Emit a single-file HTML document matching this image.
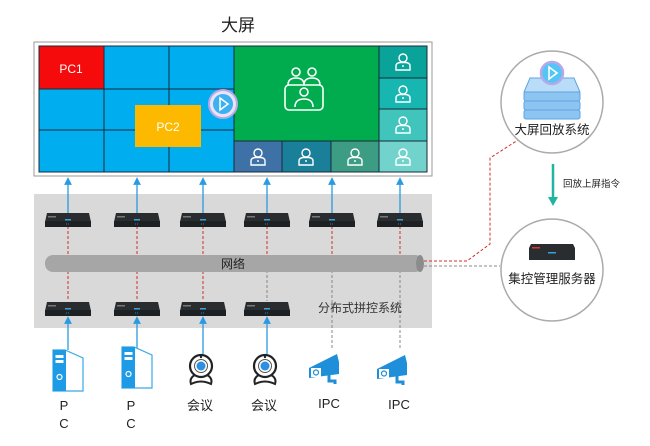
<!DOCTYPE html>
<html><head><meta charset="utf-8"><style>
html,body{margin:0;padding:0;background:#fff;}
svg{display:block;}
text{font-family:"Liberation Sans","Noto Sans CJK SC",sans-serif;}
</style></head><body>
<svg width="650" height="446" viewBox="0 0 650 446" xmlns="http://www.w3.org/2000/svg">
<defs>
<g id="dev">
  <path d="M-23,3 L-21,-6 L21,-6 L23,3 L23,8 L-23,8 Z" fill="#2a2d30"/>
  <rect x="-23" y="2" width="46" height="6" fill="#1e2124"/>
  <rect x="-20" y="-3" width="8" height="1.5" fill="#777"/>
  <rect x="-3" y="0" width="6" height="1.5" fill="#3aa0d8"/>
  <line x1="-2" y1="5" x2="2" y2="5" stroke="#3aa0d8" stroke-width="0.8" stroke-dasharray="1 1"/>
</g>
<g id="person" fill="none" stroke="#fff" stroke-width="1.4">
  <circle cx="0" cy="-4" r="4"/>
  <path d="M-7,8 L-7,4 Q-7,1 -3,0.5 L3,0.5 Q7,1 7,4 L7,8 Z"/>
  <line x1="0" y1="3" x2="0" y2="5"/>
</g>
<g id="webcam">
  <path d="M-10,18 Q-12,12 -6,9 L6,9 Q12,12 10,18 Q0,13 -10,18 Z" fill="#fff" stroke="#222" stroke-width="2"/>
  <circle cx="0" cy="0" r="11" fill="#fff" stroke="#222" stroke-width="2.2"/>
  <circle cx="0" cy="0" r="6.5" fill="#fff" stroke="#555" stroke-width="1"/>
  <circle cx="0" cy="0" r="4.5" fill="#2f8fe0"/>
  <circle cx="0" cy="-9" r="1.2" fill="#222"/>
</g>
<g id="ipc">
  <path d="M-16,2 L12,-12 L14,-4 L14,8 L-16,12 Z" fill="#1e8fd8"/>
  <rect x="-14" y="2" width="10" height="9" fill="#fff"/>
  <circle cx="-9" cy="6.5" r="2.5" fill="none" stroke="#1e8fd8" stroke-width="1.2"/>
  <path d="M4,9 L4,15 L10,15 L10,18" fill="none" stroke="#1e8fd8" stroke-width="3"/>
</g>
<g id="pc">
  <path d="M0,0 L12,0 L30,8 L30,41 L12,41 L0,41 Z" fill="#fff" stroke="#3aa7e8" stroke-width="1.2"/>
  <rect x="0" y="0" width="13" height="41" fill="#1e9be6"/>
  <rect x="2.5" y="5" width="8" height="3" fill="#fff"/>
  <rect x="2.5" y="10" width="8" height="3" fill="#fff"/>
  <circle cx="6.5" cy="27" r="2.5" fill="none" stroke="#fff" stroke-width="1.2"/>
</g>
<marker id="ab" markerWidth="6" markerHeight="6" refX="3" refY="3" orient="auto"><path d="M0,0 L6,3 L0,6 Z" fill="#2a9be0"/></marker>
</defs>

<text x="238" y="31" font-size="17" text-anchor="middle" fill="#222">大屏</text>
<rect x="34" y="42" width="398" height="134" fill="#fff" stroke="#999" stroke-width="1"/>
<!-- blue grid -->
<rect x="39" y="46" width="195" height="126" fill="#00adee"/>
<rect x="39" y="46" width="65" height="43" fill="#f50b0b"/>
<g stroke="#1a2a3a" stroke-width="1">
<line x1="104" y1="46" x2="104" y2="172"/><line x1="169" y1="46" x2="169" y2="172"/>
<line x1="39" y1="89" x2="234" y2="89"/><line x1="39" y1="130" x2="234" y2="130"/>
</g>
<rect x="135" y="105" width="66" height="42" fill="#fcb900"/>
<text x="71" y="73" font-size="12" fill="#fff" text-anchor="middle">PC1</text>
<text x="168" y="131" font-size="12" fill="#fff" text-anchor="middle">PC2</text>
<!-- green -->
<rect x="234" y="46" width="145" height="95" fill="#00ac4e"/>
<rect x="234" y="141" width="48" height="31" fill="#3e72a6"/>
<rect x="282" y="141" width="49" height="31" fill="#1a7f98"/>
<rect x="331" y="141" width="48" height="31" fill="#3d9c84"/>
<rect x="379" y="46" width="48" height="32" fill="#0aa39a"/>
<rect x="379" y="78" width="48" height="31" fill="#17b6b0"/>
<rect x="379" y="109" width="48" height="32" fill="#41c4bb"/>
<rect x="379" y="141" width="48" height="31" fill="#71d3cc"/>
<g stroke="#1a2a3a" stroke-width="1" fill="none">
<rect x="39" y="46" width="388" height="126"/>
<line x1="234" y1="46" x2="234" y2="172"/><line x1="379" y1="46" x2="379" y2="172"/>
<line x1="234" y1="141" x2="427" y2="141"/><line x1="282" y1="141" x2="282" y2="172"/><line x1="331" y1="141" x2="331" y2="172"/>
<line x1="379" y1="78" x2="427" y2="78"/><line x1="379" y1="109" x2="427" y2="109"/>
</g>
<use href="#person" x="258" y="157"/><use href="#person" x="306" y="157"/><use href="#person" x="355" y="157"/>
<use href="#person" x="403" y="62"/><use href="#person" x="403" y="94"/><use href="#person" x="403" y="125"/><use href="#person" x="403" y="157"/>
<!-- meeting icon -->
<g fill="none" stroke="#fff" stroke-width="1.6">
<circle cx="296" cy="72" r="4"/><circle cx="312" cy="72" r="4"/>
<path d="M288,85 Q288,78 296,78 Q304,78 304,85"/><path d="M304,85 Q304,78 312,78 Q320,78 320,85"/>
<rect x="285" y="85" width="38" height="25" rx="4"/>
<circle cx="304" cy="92" r="4"/><path d="M295,107 Q295,99 304,99 Q313,99 313,107"/>
</g>
<!-- play -->
<circle cx="223" cy="104" r="14" fill="#e8e4f6" stroke="#b9a8e8" stroke-width="2"/>
<circle cx="223" cy="104" r="10" fill="#3db1f0"/>
<path d="M220,98 L228,104 L220,110 Z" fill="none" stroke="#fff" stroke-width="1.5"/>

<!-- gray system box -->
<rect x="34" y="194" width="398" height="134" fill="#d9d9d9"/>
<!-- arrows up to screen -->
<g stroke="#2a9be0" stroke-width="1.3">
<line x1="68" y1="213" x2="68" y2="181" marker-end="url(#ab)"/>
<line x1="137" y1="213" x2="137" y2="181" marker-end="url(#ab)"/>
<line x1="203" y1="213" x2="203" y2="181" marker-end="url(#ab)"/>
<line x1="267" y1="213" x2="267" y2="181" marker-end="url(#ab)"/>
<line x1="332" y1="213" x2="332" y2="181" marker-end="url(#ab)"/>
<line x1="400" y1="213" x2="400" y2="181" marker-end="url(#ab)"/>
<line x1="68" y1="350" x2="68" y2="320" marker-end="url(#ab)"/>
<line x1="137" y1="350" x2="137" y2="320" marker-end="url(#ab)"/>
<line x1="203" y1="354" x2="203" y2="320" marker-end="url(#ab)"/>
<line x1="267" y1="354" x2="267" y2="320" marker-end="url(#ab)"/>
</g>
<!-- dashed -->
<g stroke="#d0302a" stroke-width="1" stroke-dasharray="3 2">
<line x1="68" y1="226" x2="68" y2="301"/><line x1="137" y1="226" x2="137" y2="301"/>
<line x1="203" y1="226" x2="203" y2="301"/><line x1="267" y1="226" x2="267" y2="256"/>
<line x1="332" y1="226" x2="332" y2="256"/><line x1="400" y1="226" x2="400" y2="256"/>
<polyline points="424,261 467,261 490,244 490,158 518,140" fill="none"/>
</g>
<g stroke="#888" stroke-width="1" stroke-dasharray="3 2">
<line x1="267" y1="270" x2="267" y2="301"/>
<line x1="332" y1="270" x2="332" y2="350"/><line x1="400" y1="270" x2="400" y2="350"/>
<line x1="424" y1="266" x2="500" y2="266"/>
</g>
<!-- pipe -->
<rect x="45" y="255" width="378" height="17" rx="8" fill="#a6a6a6"/>
<ellipse cx="420" cy="263.5" rx="4" ry="8.5" fill="#8c8c8c"/>
<text x="233" y="268" font-size="12" text-anchor="middle" fill="#222">网络</text>
<text x="318" y="312" font-size="12" fill="#333">分布式拼控系统</text>
<!-- devices -->
<use href="#dev" x="68" y="219"/><use href="#dev" x="137" y="219"/><use href="#dev" x="203" y="219"/>
<use href="#dev" x="267" y="219"/><use href="#dev" x="332" y="219"/><use href="#dev" x="400" y="219"/>
<use href="#dev" x="68" y="308"/><use href="#dev" x="137" y="308"/><use href="#dev" x="203" y="308"/><use href="#dev" x="267" y="308"/>
<!-- bottom sources -->
<use href="#pc" x="53" y="350"/><use href="#pc" x="122" y="347"/>
<use href="#webcam" x="201" y="366"/><use href="#webcam" x="265" y="366"/>
<use href="#ipc" x="325" y="366"/><use href="#ipc" x="393" y="367"/>
<g font-size="13" fill="#222" text-anchor="middle">
<text x="64" y="410">P</text><text x="64" y="428">C</text>
<text x="131" y="410">P</text><text x="131" y="428">C</text>
<text x="200" y="410">会议</text><text x="264" y="410">会议</text>
<text x="329" y="408">IPC</text><text x="399" y="409">IPC</text>
</g>

<!-- right circles -->
<circle cx="552" cy="102" r="51" fill="#fff" stroke="#aaa" stroke-width="1.5"/>
<path d="M530,78 L574,78 L580,92 L524,92 Z" fill="#b9dcf8" stroke="#5fa4e0"/>
<rect x="524" y="92" width="56" height="9" rx="2" fill="#8cc4f2" stroke="#5fa4e0"/>
<rect x="524" y="101" width="56" height="9" rx="2" fill="#8cc4f2" stroke="#5fa4e0"/>
<rect x="524" y="110" width="56" height="9" rx="2" fill="#8cc4f2" stroke="#5fa4e0"/>
<circle cx="552" cy="73" r="11" fill="#54c6f5" stroke="#b9a8e8" stroke-width="2.5"/>
<path d="M549,67 L557,73 L549,79 Z" fill="none" stroke="#fff" stroke-width="1.6"/>
<text x="552" y="134" font-size="12.5" text-anchor="middle" fill="#222">大屏回放系统</text>
<line x1="553" y1="164" x2="553" y2="198" stroke="#1fb5a0" stroke-width="2.5"/>
<path d="M548,197 L553,206 L558,197 Z" fill="#1fb5a0"/>
<text x="563" y="187" font-size="9.5" fill="#222">回放上屏指令</text>
<circle cx="552" cy="270" r="51" fill="#fff" stroke="#aaa" stroke-width="1.5"/>
<path d="M529,248 L531,244 L573,244 L575,248 L575,260 L529,260 Z" fill="#2a2d30"/>
<rect x="532" y="247" width="8" height="1.5" fill="#d33"/>
<rect x="548" y="252" width="8" height="1.5" fill="#3aa0d8"/>
<text x="552" y="283" font-size="12.5" text-anchor="middle" fill="#222">集控管理服务器</text>
</svg>
</body></html>
